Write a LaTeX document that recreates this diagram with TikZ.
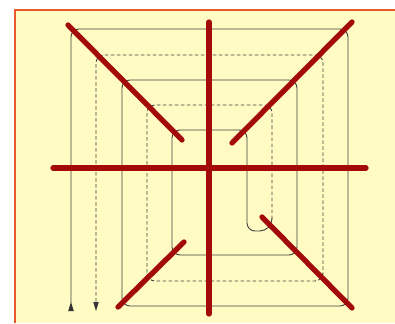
\documentclass[tikz,border=0pt]{standalone}
\begin{document}
\begin{tikzpicture}[x=1pt,y=-1pt,
  thinline/.style={line width=0.9pt, draw=black!75, rounded corners=8pt},
  dashline/.style={thinline, dash pattern=on 3.5pt off 2.5pt},
  redbar/.style={line width=5.3pt, draw=barred, line cap=round},
  tip/.style={fill=black!80, draw=none}]
\definecolor{barred}{HTML}{A30A0A}
\definecolor{paper}{HTML}{FFFBC2}
\definecolor{frame}{HTML}{E85A2A}
\useasboundingbox (0,0) rectangle (395,323);
\fill[white] (0,0) rectangle (395,323);
\fill[paper] (15,10) rectangle (395,323);
\draw[frame, line width=2pt] (15,323) -- (15,10) -- (395,10);
% solid inward spiral
\draw[thinline] (71,303) -- (71,29) -- (348,29) -- (348,306) -- (122,306) -- (122,80)
  -- (297,80) -- (297,255) -- (172,255) -- (172,130) -- (247,130) -- (247,231)
  [rounded corners=12.5pt] -- (272,231) -- (272,218);
% dashed outward spiral
\draw[dashline] (272,219) -- (272,105) -- (147,105) -- (147,281) -- (323,281)
  -- (323,55) -- (96,55) -- (96,303);
% arrow tips
\fill[tip] (71,302) -- (68.2,311) -- (73.8,311) -- cycle;
\fill[tip] (96,311) -- (93.2,302) -- (98.8,302) -- cycle;
% red bars
\coordinate (vt) at (209,22);  \coordinate (vb) at (209,314);
\coordinate (hl) at (53,168);  \coordinate (hr) at (366,168);
\coordinate (tl1) at (68,25);  \coordinate (tl2) at (182,140);
\coordinate (tr1) at (352,22); \coordinate (tr2) at (232,143);
\coordinate (bl1) at (184,242); \coordinate (bl2) at (118,307);
\coordinate (br1) at (262,217); \coordinate (br2) at (352,308);
\draw[redbar] (vt) -- (vb);
\draw[redbar] (hl) -- (hr);
\draw[redbar] (tl1) -- (tl2);
\draw[redbar] (tr1) -- (tr2);
\draw[redbar] (bl1) -- (bl2);
\draw[redbar] (br1) -- (br2);
\end{tikzpicture}
\end{document}
